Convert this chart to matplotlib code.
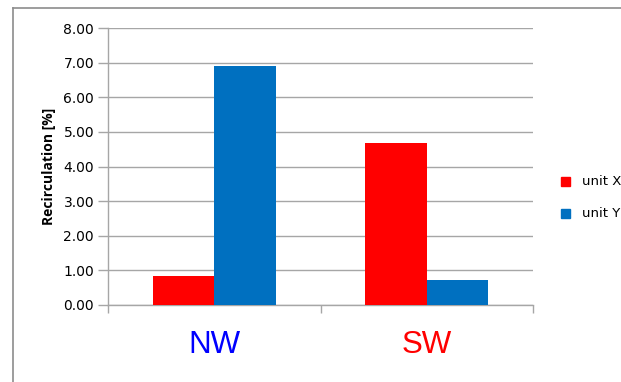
import matplotlib
matplotlib.use("Agg")
import matplotlib.pyplot as plt
from matplotlib.lines import Line2D
import numpy as np

categories = ["NW", "SW"]
category_colors = ["#0000FF", "#FF0000"]
series_names = ["unit X", "unit Y"]
series_colors = ["#FF0000", "#0070C0"]
unit_x = [0.84, 4.68]
unit_y = [6.91, 0.72]
y_ticks = [0, 1, 2, 3, 4, 5, 6, 7, 8]

fig = plt.figure(figsize=(6.21, 3.82), dpi=100)
ax = fig.add_axes([108 / 621, 77 / 382, 425 / 621, 277 / 382])

x = np.arange(len(categories))
w = 0.29
ax.bar(x - w / 2, unit_x, w, color=series_colors[0], label=series_names[0], zorder=3)
ax.bar(x + w / 2, unit_y, w, color=series_colors[1], label=series_names[1], zorder=3)

ax.set_xlim(-0.5, 1.5)
ax.set_ylim(0, 8)
ax.set_yticks(y_ticks)
ax.set_yticklabels([f"{v:.2f}" for v in y_ticks], fontfamily="DejaVu Sans", fontsize=10)
ax.yaxis.grid(True, color="#a6a6a6", linewidth=1)
ax.set_axisbelow(True)

ax.set_xticks([-0.5, 0.5, 1.5])
ax.set_xticklabels([])
ax.tick_params(axis="x", length=6, color="#a6a6a6", width=1)
ax.tick_params(axis="y", length=7, color="#a6a6a6", width=1, pad=3)

for i, (lab, col) in enumerate(zip(categories, category_colors)):
    ax.text(i, -48 / 277, lab, transform=ax.get_xaxis_transform(), ha="center", va="baseline",
            fontsize=22.5, color=col, fontfamily="Liberation Sans")

for s in ["top", "right"]:
    ax.spines[s].set_visible(False)
for s in ["left", "bottom"]:
    ax.spines[s].set_color("#a6a6a6")
    ax.spines[s].set_linewidth(1)

ax.set_ylabel("Recirculation [%]", fontsize=10, fontweight="bold", fontfamily="Open Sans", labelpad=5)

# Legend placed at the right edge
for j, (name, col) in enumerate(zip(series_names, series_colors)):
    yy = 1 - (181.5 + 32 * j) / 382
    fig.patches.append(plt.Rectangle((561 / 621, yy - 4.5 / 382), 9 / 621, 9 / 382,
                                     transform=fig.transFigure, color=col, figure=fig))
    fig.text(582 / 621, yy, name, ha="left", va="center", fontsize=9.5,
             fontfamily="DejaVu Sans", color="#000000")

# Chart frame
fig.add_artist(Line2D([13 / 621, 13 / 621], [0, 1 - 8 / 382], transform=fig.transFigure,
                      color="#8c8c8c", linewidth=1.2))
fig.add_artist(Line2D([13 / 621, 1], [1 - 8 / 382, 1 - 8 / 382], transform=fig.transFigure,
                      color="#8c8c8c", linewidth=1.2))

fig.savefig("out.png", dpi=100)
